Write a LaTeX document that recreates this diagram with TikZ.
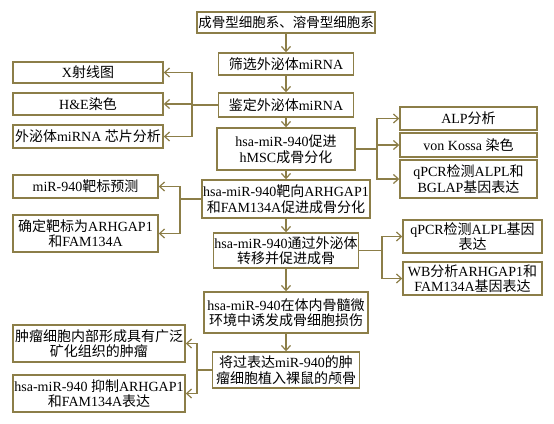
\documentclass[tikz,border=0pt]{standalone}
\usepackage{fontspec}
\setmainfont{Liberation Serif}
\newfontfamily\cjk{Noto Sans CJK SC}
\newcommand\zh[1]{{\cjk #1}}
\usetikzlibrary{arrows.meta}
\definecolor{boxc}{RGB}{140,126,72}

\tikzset{
  box/.style={draw=boxc, line width=1.4pt, fill=white, align=center, inner sep=1pt,
    font=\fontsize{14}{15.5}\selectfont},
  wh/.style 2 args={minimum width=#1pt, minimum height=#2pt},
  link/.style={draw=boxc, line width=1.2pt},
  arr/.style={link, -{Straight Barb[length=5pt,width=9pt,line width=1.2pt]}},
}

\begin{document}
\begin{tikzpicture}[x=1pt,y=-1pt]
\useasboundingbox (0,0) rectangle (554,423);

% main column
\node[box, wh={178}{21}, font=\fontsize{13.5}{15}\selectfont] (lines) at (286,22.5) {\zh{成骨型细胞系、溶骨型细胞系}};
\node[box, wh={135}{22}] (screen) at (286,64) {\zh{筛选外泌体}miRNA};
\node[box, wh={135}{24}] (ident) at (286,105) {\zh{鉴定外泌体}miRNA};
\node[box, wh={138}{42}] (promote) at (286,149) {hsa-miR-940\zh{促进}\\hMSC\zh{成骨分化}};
\node[box, wh={168}{38}] (target) at (286,199) {hsa-miR-940\zh{靶向}ARHGAP1\\\zh{和}FAM134A\zh{促进成骨分化}};
\node[box, wh={145}{35}] (transfer) at (286,250.5) {hsa-miR-940\zh{通过外泌体}\\\zh{转移并促进成骨}};
\node[box, wh={164}{41}] (invivo) at (286,312.5) {hsa-miR-940\zh{在体内骨髓微}\\\zh{环境中诱发成骨细胞损伤}};
\node[box, wh={147}{36}] (implant) at (286,370) {\zh{将过表达}miR-940\zh{的肿}\\\zh{瘤细胞植入裸鼠的颅骨}};

\draw[arr] (lines) -- (screen);
\draw[arr] (screen) -- (ident);
\draw[arr] (ident) -- (promote);
\draw[arr] (promote) -- (target);
\draw[arr] (target) -- (transfer);
\draw[arr] (transfer) -- (invivo);
\draw[arr] (invivo) -- (implant);

% left side
\node[box, wh={150}{21}] (xray) at (88,72.5) {X\zh{射线图}};
\node[box, wh={150}{22}] (he) at (88,104) {H\&E\zh{染色}};
\node[box, wh={150}{23}] (chip) at (88,136.5) {\zh{外泌体}miRNA \zh{芯片分析}};
\coordinate (jident) at (192,105);
\draw[link] (ident) -- (jident);
\draw[arr] (jident) |- (xray);
\draw[arr] (jident) |- (he);
\draw[arr] (jident) |- (chip);

\node[box, wh={145}{23}] (predict) at (85.5,186.5) {miR-940\zh{靶标预测}};
\node[box, wh={145}{37}] (confirm) at (85.5,233.5) {\zh{确定靶标为}ARHGAP1\\\zh{和}FAM134A};
\coordinate (jtarget) at (180,199);
\draw[link] (target) -- (jtarget);
\draw[arr] (jtarget) |- (predict);
\draw[arr] (jtarget) |- (confirm);

\node[box, wh={172}{37}] (tumor) at (99,343.5) {\zh{肿瘤细胞内部形成具有广泛}\\\zh{矿化组织的肿瘤}};
\node[box, wh={172}{37}] (inhibit) at (99,393.5) {hsa-miR-940 \zh{抑制}ARHGAP1\\\zh{和}FAM134A\zh{表达}};
\coordinate (jimplant) at (197,370);
\draw[link] (implant) -- (jimplant);
\draw[arr] (jimplant) |- (tumor);
\draw[arr] (jimplant) |- (inhibit);

% right side
\node[box, wh={137}{23}] (alp) at (468.5,118.5) {ALP\zh{分析}};
\node[box, wh={137}{24}] (kossa) at (468.5,145) {von Kossa \zh{染色}};
\node[box, wh={137}{38}] (qbglap) at (468.5,179) {qPCR\zh{检测}ALPL\zh{和}\\BGLAP\zh{基因表达}};
\coordinate (jpromote) at (377,149);
\draw[link] (promote) -- (jpromote);
\draw[arr] (jpromote) |- (alp);
\draw[arr] (jpromote) |- (kossa);
\draw[arr] (jpromote) |- (qbglap);

\node[box, wh={139}{33}] (qalpl) at (472.5,236.5) {qPCR\zh{检测}ALPL\zh{基因}\\\zh{表达}};
\node[box, wh={139}{33}] (wb) at (472.5,278.5) {WB\zh{分析}ARHGAP1\zh{和}\\FAM134A\zh{基因表达}};
\coordinate (jtransfer) at (382,250.5);
\draw[link] (transfer) -- (jtransfer);
\draw[arr] (jtransfer) |- (qalpl);
\draw[arr] (jtransfer) |- (wb);
\end{tikzpicture}
\end{document}
